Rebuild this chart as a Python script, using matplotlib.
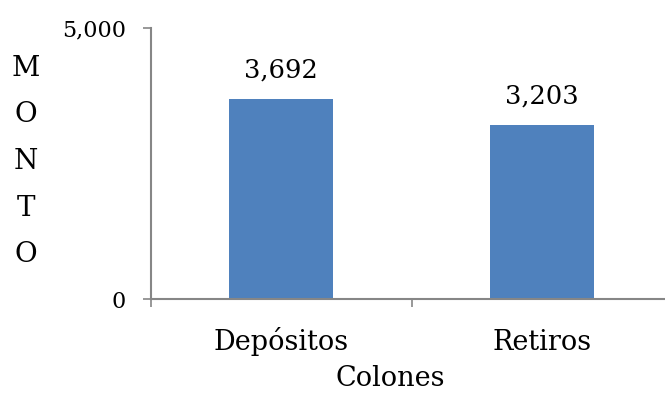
import numpy as np
import matplotlib.pyplot as plt

# Monto total por tipo de movimiento (colones)
categorias = ["Depósitos", "Retiros"]
montos = [3692, 3203]
ticks_y = [0, 5000]

plt.rcParams['font.family'] = ['DejaVu Serif']

W, H = 665, 393
fig = plt.figure(figsize=(W / 100, H / 100), dpi=100)
# the plot area runs a little past the right edge of the figure
ax = fig.add_axes([151 / W, (H - 299) / H, 521 / W, 271 / H])

gris = "#868686"
x = np.arange(len(categorias))
ax.bar(x, montos, width=0.40, color="#4F81BD", zorder=2)

for xi, v in zip(x, montos):
    ax.annotate(f"{v:,}", (xi, v), xytext=(0, 15.5), textcoords="offset points",
                ha="center", va="baseline", fontsize=18.5, color="black")

ax.set_xlim(-0.5, len(categorias) - 0.5)
ax.set_ylim(0, 5000)

ax.set_yticks(ticks_y)
ax.set_yticklabels([f"{t:,}" for t in ticks_y])
ax.tick_params(axis="y", direction="out", length=6, width=1.2, color=gris,
               pad=12, labelsize=16)

# category names share one baseline, so they are placed as text under each bar
ax.set_xticks([])
for xi, nombre in zip(x, categorias):
    ax.annotate(nombre, (xi, 0), xytext=(0, -36.5), textcoords="offset points",
                ha="center", va="baseline", fontsize=19.5)
ax.set_xticks(np.arange(len(categorias) + 1) - 0.5, minor=True)
ax.tick_params(axis="x", which="minor", direction="out", length=6, width=1.2,
               color=gris)

for side in ("top", "right"):
    ax.spines[side].set_visible(False)
for side in ("left", "bottom"):
    ax.spines[side].set_color(gris)
    ax.spines[side].set_linewidth(1.5)

fig.text(390 / W, 1 - 386 / H, "Colones", ha="center", va="baseline", fontsize=19.5)
fig.text(26 / W, 1 - 161.5 / H, "M\nO\nN\nT\nO", ha="center", va="center",
         multialignment="center", fontsize=20, linespacing=1.94)

fig.savefig("out.png", dpi=100)
